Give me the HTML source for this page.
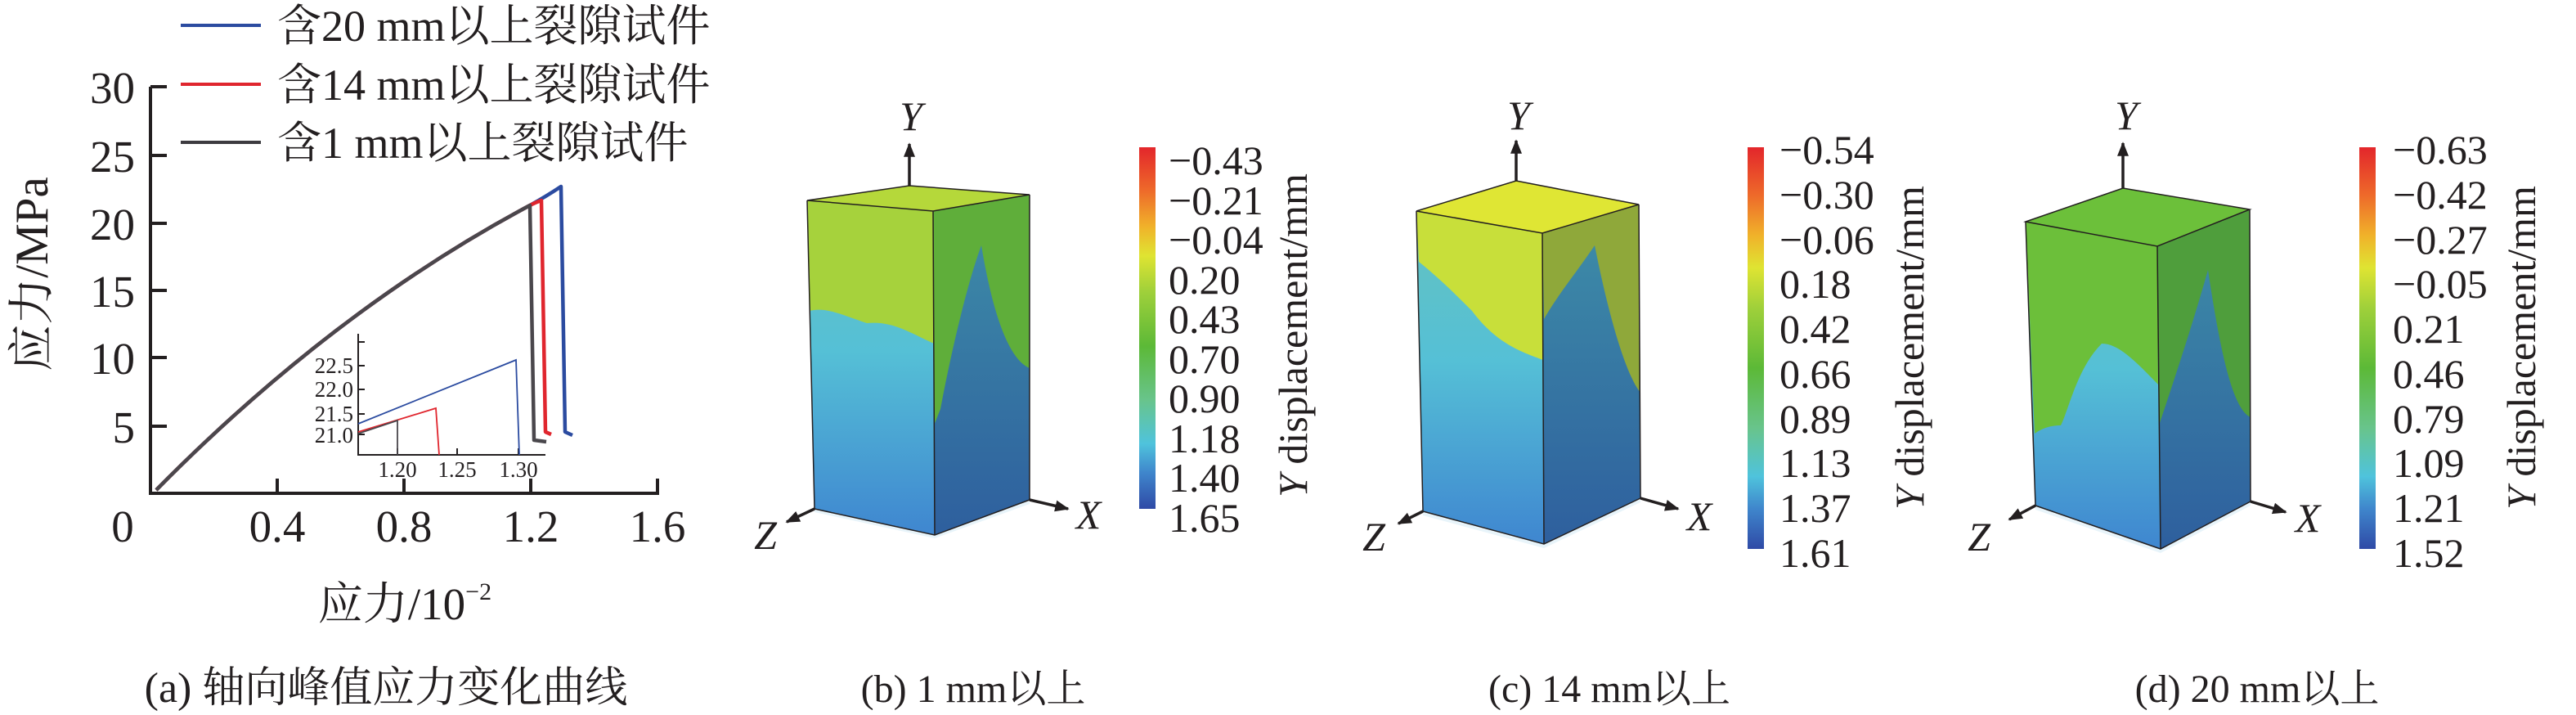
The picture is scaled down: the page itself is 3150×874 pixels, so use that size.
<!DOCTYPE html>
<html><head><meta charset="utf-8"><style>
html,body{margin:0;padding:0;background:#fff;}
svg{display:block;}
text{font-family:"Liberation Serif","Noto Serif CJK SC",serif;fill:#231f20;}
</style></head><body>
<svg width="3150" height="874" viewBox="0 0 3150 874" xmlns="http://www.w3.org/2000/svg">
<defs>
<linearGradient id="cb" x1="0" y1="0" x2="0" y2="1">
<stop offset="0" stop-color="#e3262b"/><stop offset="0.12" stop-color="#ee6a2a"/><stop offset="0.22" stop-color="#f0b22a"/>
<stop offset="0.3" stop-color="#dfe432"/><stop offset="0.4" stop-color="#9fd03a"/><stop offset="0.55" stop-color="#5cb937"/>
<stop offset="0.7" stop-color="#68c48c"/><stop offset="0.82" stop-color="#4fc3dc"/><stop offset="0.9" stop-color="#3f86cc"/><stop offset="1" stop-color="#2f4aa6"/>
</linearGradient>
<linearGradient id="lf" x1="0" y1="0" x2="0" y2="1">
<stop offset="0" stop-color="#64c2be"/><stop offset="0.45" stop-color="#55c0d6"/><stop offset="1" stop-color="#3f86d0"/>
</linearGradient>
<linearGradient id="rf" x1="0" y1="0" x2="0" y2="1">
<stop offset="0" stop-color="#3e8fa8"/><stop offset="1" stop-color="#2e5f9e"/>
</linearGradient>
<marker id="ar" viewBox="0 0 10 10" refX="9" refY="5" markerWidth="5" markerHeight="5" orient="auto"><path d="M0,1 L10,5 L0,9 Z" fill="#231f20"/></marker>
</defs>

<!-- Panel a -->
<g stroke="#231f20" stroke-width="4" fill="none">
<path d="M184,106 V603 H806"/>
<path d="M184,106 H204 M184,190 H204 M184,273 H204 M184,355 H204 M184,437 H204 M184,521 H204"/>
<path d="M339,603 V585 M494,603 V585 M649,603 V585 M804,603 V585"/>
</g>
<g font-size="55" text-anchor="end">
<text x="165" y="126">30</text><text x="165" y="210">25</text><text x="165" y="293">20</text>
<text x="165" y="375">15</text><text x="165" y="457">10</text><text x="165" y="541">5</text>
</g>
<g font-size="55" text-anchor="middle">
<text x="150" y="662">0</text><text x="339" y="662">0.4</text><text x="494" y="662">0.8</text><text x="649" y="662">1.2</text><text x="804" y="662">1.6</text>
</g>
<text font-size="57" text-anchor="middle" transform="translate(58,335) rotate(-90)">应力/MPa</text>
<text font-size="55" text-anchor="middle" x="495" y="757">应力/10<tspan font-size="30" dy="-24">−2</tspan></text>
<text font-size="52" text-anchor="middle" x="472" y="858">(a) 轴向峰值应力变化曲线</text>

<!-- legend -->
<g stroke-width="4">
<line x1="221" y1="31" x2="319" y2="31" stroke="#2b4ba0"/>
<line x1="221" y1="103" x2="319" y2="103" stroke="#e0262e"/>
<line x1="221" y1="174" x2="319" y2="174" stroke="#3d3b40"/>
</g>
<g font-size="54">
<text x="339" y="50">含20 mm以上裂隙试件</text>
<text x="339" y="122">含14 mm以上裂隙试件</text>
<text x="339" y="193">含1 mm以上裂隙试件</text>
</g>

<!-- curves -->
<g fill="none" stroke-width="4.5" stroke-linejoin="round">
<path d="M191,599 Q408,379 648,251 Q668,240 686,228 L691,528 L700,532" stroke="#2b4ba0"/>
<path d="M191,599 Q408,379 648,251 Q656,247 662,245 L667,528 L674,531" stroke="#e0262e"/>
<path d="M191,599 Q408,379 648,251 L653,538 L668,540" stroke="#4a474c"/>
</g>

<!-- inset -->
<g stroke="#231f20" stroke-width="2" fill="none">
<path d="M438,408 V556 H667"/>
<path d="M438,418 H446 M438,447 H446 M438,476 H446 M438,506 H446 M438,531 H446"/>
<path d="M486,556 V548 M559,556 V548 M634,556 V548"/>
</g>
<g font-size="27" text-anchor="end">
<text x="432" y="456">22.5</text><text x="432" y="485">22.0</text><text x="432" y="515">21.5</text><text x="432" y="541">21.0</text>
</g>
<g font-size="27" text-anchor="middle">
<text x="486" y="583">1.20</text><text x="559" y="583">1.25</text><text x="634" y="583">1.30</text>
</g>
<g fill="none" stroke-width="1.8">
<path d="M438,518 L631,440 L635,556" stroke="#2b4ba0"/>
<path d="M438,528 L533,499 L537,556" stroke="#e0262e"/>
<path d="M438,530 L486,514 L486,556" stroke="#4a474c"/>
</g>

<!-- Panel b cube -->
<g>
<polygon points="996,622 1143,654 1259,611 1259,616 1143,658 996,626" fill="#e8f4fa"/>
<polygon points="987,245 1141,258 1143,654 996,622" fill="url(#lf)"/>
<path d="M987,245 L1141,258 L1142,420 C1110,405 1090,392 1060,395 C1030,385 1010,375 990,380 Z" fill="#a6d23c"/>
<polygon points="1141,258 1259,238 1259,611 1143,654" fill="url(#rf)"/>
<path d="M1141,258 L1259,238 L1259,450 C1235,440 1215,390 1200,300 C1185,340 1165,420 1150,500 L1142,520 Z" fill="#5fae3a"/>
<polygon points="987,245 1112,227 1259,238 1141,258" fill="#b5d83a"/>
<g stroke="#231f20" stroke-width="1.5" fill="none"><path d="M987,245 L1112,227 L1259,238 L1141,258 Z M1141,258 L1143,654 M1259,238 L1259,611 M996,622 L1143,654 L1259,611 M987,245 L996,622"/></g>
</g>
<g stroke="#231f20" stroke-width="3.5" fill="none" marker-end="url(#ar)">
<line x1="1112" y1="227" x2="1112" y2="176"/>
<line x1="1259" y1="611" x2="1306" y2="622"/>
<line x1="996" y1="622" x2="962" y2="638"/>
</g>
<g font-size="50" font-style="italic" text-anchor="middle">
<text x="1114" y="159">Y</text><text x="1331" y="646">X</text><text x="936" y="671">Z</text>
</g>
<rect x="1393" y="180" width="20" height="442" fill="url(#cb)"/>
<g font-size="50">
<text x="1429" y="213">−0.43</text><text x="1429" y="262">−0.21</text><text x="1429" y="310">−0.04</text><text x="1429" y="359">0.20</text>
<text x="1429" y="407">0.43</text><text x="1429" y="456">0.70</text><text x="1429" y="504">0.90</text><text x="1429" y="553">1.18</text>
<text x="1429" y="601">1.40</text><text x="1429" y="650">1.65</text>
</g>
<text font-size="50" text-anchor="middle" transform="translate(1598,410) rotate(-90)"><tspan font-style="italic">Y</tspan> displacement/mm</text>
<text font-size="48" text-anchor="middle" x="1190" y="858">(b) 1 mm以上</text>

<!-- Panel c cube -->
<g>
<polygon points="1740,625 1888,665 2006,609 2006,614 1888,670 1740,630" fill="#e8f4fa"/>
<polygon points="1732,258 1886,285 1888,665 1740,625" fill="url(#lf)"/>
<path d="M1732,258 L1886,285 L1887,440 C1860,430 1830,420 1800,380 C1780,360 1760,340 1735,320 Z" fill="#c8df3a"/>
<polygon points="1886,285 2004,250 2006,609 1888,665" fill="url(#rf)"/>
<path d="M1886,285 L2004,250 L2006,480 C1990,460 1970,400 1950,300 C1930,330 1905,360 1888,390 Z" fill="#8fa83a"/>
<polygon points="1732,258 1854,221 2004,250 1886,285" fill="#dfe634"/>
<g stroke="#231f20" stroke-width="1.5" fill="none"><path d="M1732,258 L1854,221 L2004,250 L1886,285 Z M1886,285 L1888,665 M2004,250 L2006,609 M1740,625 L1888,665 L2006,609 M1732,258 L1740,625"/></g>
</g>
<g stroke="#231f20" stroke-width="3.5" fill="none" marker-end="url(#ar)">
<line x1="1854" y1="221" x2="1854" y2="172"/>
<line x1="2006" y1="609" x2="2052" y2="622"/>
<line x1="1740" y1="625" x2="1710" y2="640"/>
</g>
<g font-size="50" font-style="italic" text-anchor="middle">
<text x="1857" y="158">Y</text><text x="2078" y="648">X</text><text x="1680" y="673">Z</text>
</g>
<rect x="2137" y="180" width="20" height="491" fill="url(#cb)"/>
<g font-size="50">
<text x="2176" y="200">−0.54</text><text x="2176" y="255">−0.30</text><text x="2176" y="310">−0.06</text><text x="2176" y="364">0.18</text>
<text x="2176" y="419">0.42</text><text x="2176" y="474">0.66</text><text x="2176" y="529">0.89</text><text x="2176" y="583">1.13</text>
<text x="2176" y="638">1.37</text><text x="2176" y="693">1.61</text>
</g>
<text font-size="50" text-anchor="middle" transform="translate(2352,425) rotate(-90)"><tspan font-style="italic">Y</tspan> displacement/mm</text>
<text font-size="48" text-anchor="middle" x="1968" y="858">(c) 14 mm以上</text>

<!-- Panel d cube -->
<g>
<polygon points="2489,618 2642,671 2752,613 2752,618 2642,676 2489,623" fill="#e8f4fa"/>
<polygon points="2477,271 2638,301 2642,671 2489,618" fill="url(#lf)"/>
<path d="M2477,271 L2638,301 L2639,470 C2610,440 2590,420 2570,420 C2540,450 2530,500 2520,520 C2505,520 2495,525 2488,530 Z" fill="#6cbf3a"/>
<polygon points="2638,301 2751,256 2752,613 2642,671" fill="url(#rf)"/>
<path d="M2638,301 L2751,256 L2752,510 C2730,500 2715,430 2700,330 C2680,400 2660,460 2640,520 Z" fill="#4f9e3c"/>
<polygon points="2477,271 2596,230 2751,256 2638,301" fill="#6cc03a"/>
<g stroke="#231f20" stroke-width="1.5" fill="none"><path d="M2477,271 L2596,230 L2751,256 L2638,301 Z M2638,301 L2642,671 M2751,256 L2752,613 M2489,618 L2642,671 L2752,613 M2477,271 L2489,618"/></g>
</g>
<g stroke="#231f20" stroke-width="3.5" fill="none" marker-end="url(#ar)">
<line x1="2596" y1="230" x2="2596" y2="175"/>
<line x1="2752" y1="613" x2="2795" y2="626"/>
<line x1="2489" y1="618" x2="2457" y2="635"/>
</g>
<g font-size="50" font-style="italic" text-anchor="middle">
<text x="2600" y="158">Y</text><text x="2822" y="650">X</text><text x="2420" y="673">Z</text>
</g>
<rect x="2885" y="180" width="20" height="491" fill="url(#cb)"/>
<g font-size="50">
<text x="2926" y="200">−0.63</text><text x="2926" y="255">−0.42</text><text x="2926" y="310">−0.27</text><text x="2926" y="364">−0.05</text>
<text x="2926" y="419">0.21</text><text x="2926" y="474">0.46</text><text x="2926" y="529">0.79</text><text x="2926" y="583">1.09</text>
<text x="2926" y="638">1.21</text><text x="2926" y="693">1.52</text>
</g>
<text font-size="50" text-anchor="middle" transform="translate(3100,425) rotate(-90)"><tspan font-style="italic">Y</tspan> displacement/mm</text>
<text font-size="48" text-anchor="middle" x="2760" y="858">(d) 20 mm以上</text>
</svg>
</body></html>
